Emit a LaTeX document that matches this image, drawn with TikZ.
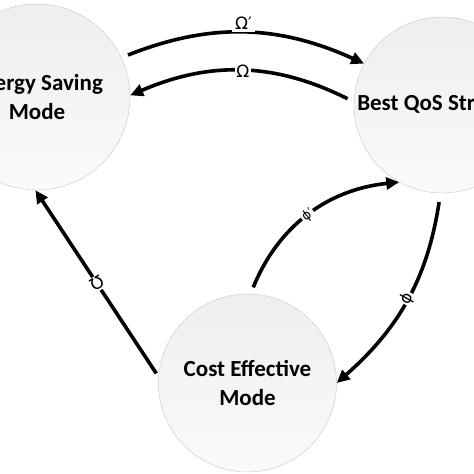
\documentclass[tikz,border=0pt]{standalone}
\usepackage{fontspec}
\setmainfont{Carlito}
\newfontfamily\greekfont{DejaVu Sans}
\usetikzlibrary{
	arrows.meta,
	positioning
}

\tikzset{
	mode/.style={circle, draw=gray!45, thin, top color=gray!13, bottom color=gray!4,
		inner sep=0pt, align=center, font=\bfseries\fontsize{23}{28.5}\selectfont},
	trans/.style={line width=3.6pt, -{Triangle[length=13pt,width=12pt]}, shorten <=7pt},
	lbl/.style={fill=white, inner sep=1.2pt, font=\greekfont\fontsize{17}{17}\selectfont}
}

\begin{document}
\begin{tikzpicture}[x=1pt, y=1pt]
	\useasboundingbox (0,0) rectangle (474,474);
	\clip (0,0) rectangle (474,474);
	% 状态
	\node[mode, minimum size=186pt] (saving) at (37,377) {Energy Saving\\Mode};
	\node[mode, minimum size=176pt] (qos) at (442,369) {Best QoS Strategy};
	\node[mode, minimum size=178pt] (cost) at (247.5,91) {Cost Effective\\Mode};
	% 上方两条弧
	\draw[trans] (saving.25) to[bend left=23]
		node[lbl, inner sep=3pt, yshift=10pt] {Ω′} (qos.152);
	\draw[trans] (qos.178) to[bend right=25]
		node[lbl] {Ω} (saving.1);
	% 左侧直线
	\draw[trans, shorten <=4pt] (cost.176) --
		node[lbl, rotate=-148] {Ω} (saving.269);
	% 右侧两条弧
	\draw[trans] (cost.88) to[bend left=31]
		node[lbl, sloped, font=\greekfont\fontsize{13}{13}\selectfont] {ϕ′} (qos.241);
	\draw[trans, shorten <=9pt] (qos.269) to[bend left=20]
		node[lbl, sloped, font=\greekfont\fontsize{16}{16}\selectfont] {ϕ} (cost.0);
\end{tikzpicture}
\end{document}
